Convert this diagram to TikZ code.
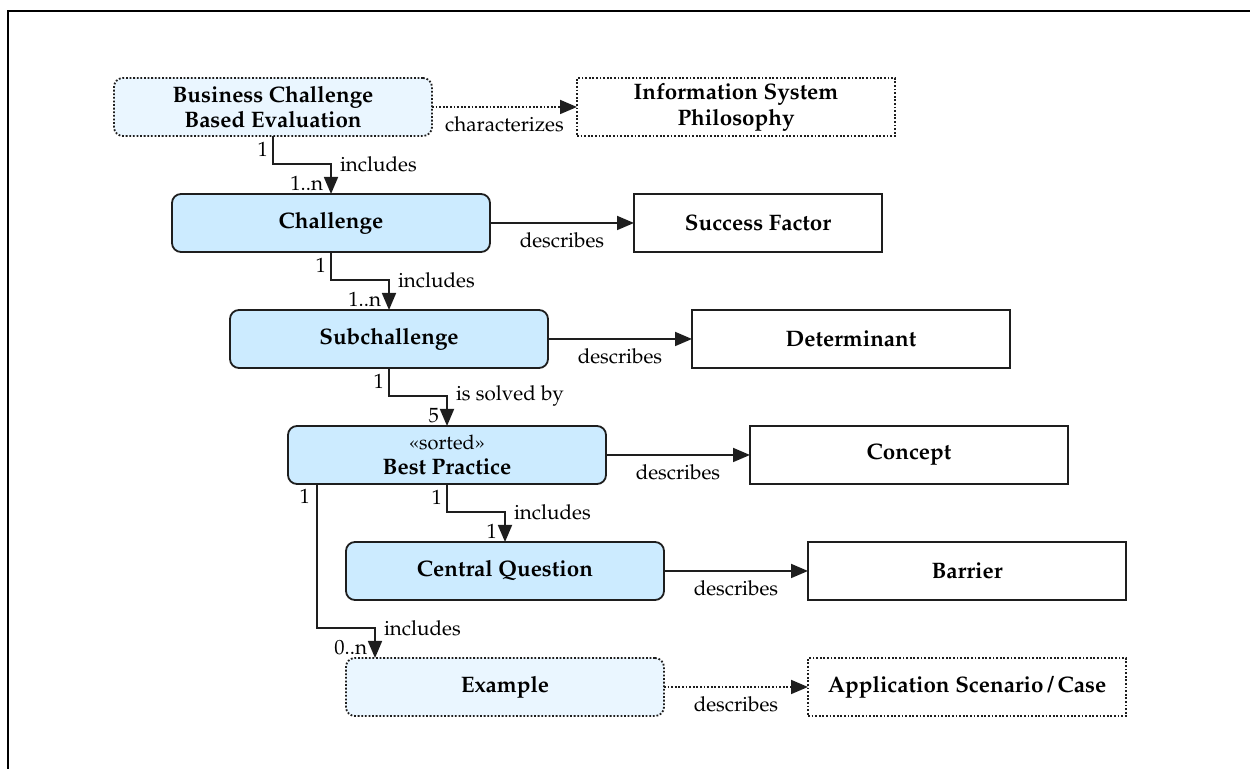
\documentclass[tikz,border=0pt]{standalone}
\usepackage[T1]{fontenc}
\usepackage{mathpazo}
\usetikzlibrary{arrows.meta,positioning,calc}
\definecolor{boxblue}{HTML}{CCEBFF}
\definecolor{paleblue}{HTML}{EAF6FF}
\definecolor{edge}{HTML}{1E1E1E}
\newcommand{\sortedtag}{{\fontsize{10}{11}\selectfont\mdseries\guillemotleft sorted\guillemotright}}
\begin{document}
\begin{tikzpicture}[x=0.5pt,y=-0.5pt,
  every node/.style={inner sep=0pt, outer sep=0pt},
  ent/.style={draw=edge, line width=0.9pt, rounded corners=4.5pt, fill=boxblue,
     minimum width=159pt, minimum height=29pt, align=center,
     font=\fontsize{11.2}{12.8}\selectfont\bfseries},
  entdot/.style={ent, fill=paleblue, dash pattern=on 0.9pt off 0.9pt},
  concept/.style={draw=edge, line width=0.9pt, fill=white,
     minimum width=159pt, minimum height=29pt, align=center,
     font=\fontsize{11.2}{12.8}\selectfont\bfseries},
  conceptdot/.style={concept, dash pattern=on 0.9pt off 0.9pt},
  arr/.style={draw=edge, line width=0.9pt, -{Triangle[length=8.5pt,width=7pt]}},
  arrdot/.style={arr, dash pattern=on 0.9pt off 0.9pt},
  lbl/.style={font=\fontsize{10.3}{12}\selectfont, inner sep=1.5pt}
]
\useasboundingbox (0,0) rectangle (1250,769);
% frame
\draw[line width=1.4pt] (8,769) -- (8,11) -- (1250,11);

% left column
\node[entdot] (bcbe) at (273,107) {Business Challenge\\Based Evaluation};
\node[ent] (chal) at (331,223) {Challenge};
\node[ent] (sub) at (389,339) {Subchallenge};
\node[ent] (bp) at (447,455) {\sortedtag\\[0pt]Best Practice};
\node[ent] (cq) at (505,571) {Central Question};
\node[entdot] (ex) at (505,687) {Example};

% right column
\node[conceptdot] (isp) at (736,107) {Information System\\Philosophy};
\node[concept, minimum width=124pt] (sf) at (758,223) {Success Factor};
\node[concept] (det) at (851,339) {Determinant};
\node[concept] (con) at (909,455) {Concept};
\node[concept] (bar) at (967,571) {Barrier};
\node[conceptdot] (app) at (967,687) {Application Scenario\,/\,Case};

% horizontal arrows
\draw[arrdot] (bcbe) -- (isp) node[lbl, midway, below=3.5pt] {characterizes};
\draw[arr] (chal) -- (sf) node[lbl, midway, below=3.5pt] {describes};
\draw[arr] (sub) -- (det) node[lbl, midway, below=3.5pt] {describes};
\draw[arr] (bp) -- (con) node[lbl, midway, below=3.5pt] {describes};
\draw[arr] (cq) -- (bar) node[lbl, midway, below=3.5pt] {describes};
\draw[arrdot] (ex) -- (app) node[lbl, midway, below=3.5pt] {describes};

% vertical connectors
\draw[arr] (bcbe.south) -- ++(0,28) coordinate (k1) -| (chal.north);
\node[lbl, anchor=south east] at ([xshift=-1pt,yshift=2pt]k1) {1};
\node[lbl, anchor=south east] at ([xshift=-2.5pt]chal.north) {1..n};
\node[lbl, anchor=west] at ([xshift=3pt]k1 -| chal.north) {includes};

\draw[arr] (chal.south) -- ++(0,28) coordinate (k2) -| (sub.north);
\node[lbl, anchor=south east] at ([xshift=-1pt,yshift=2pt]k2) {1};
\node[lbl, anchor=south east] at ([xshift=-2.5pt]sub.north) {1..n};
\node[lbl, anchor=west] at ([xshift=3pt]k2 -| sub.north) {includes};

\draw[arr] (sub.south) -- ++(0,28) coordinate (k3) -| (bp.north);
\node[lbl, anchor=south east] at ([xshift=-1pt,yshift=2pt]k3) {1};
\node[lbl, anchor=south east] at ([xshift=-2.5pt]bp.north) {5};
\node[lbl, anchor=west] at ([xshift=3pt]k3 -| bp.north) {is solved by};

\draw[arr] (bp.south) -- ++(0,28) coordinate (k4) -| (cq.north);
\node[lbl, anchor=south east] at ([xshift=-1pt,yshift=2pt]k4) {1};
\node[lbl, anchor=south east] at ([xshift=-2.5pt]cq.north) {1};
\node[lbl, anchor=west] at ([xshift=3pt]k4 -| cq.north) {includes};

\coordinate (exin) at ([xshift=-65pt]ex.north);
\draw[arr] ([xshift=-65pt]bp.south) -- ++(0,144) coordinate (k5) -| (exin);
\node[lbl, anchor=north east] at ([xshift=-2pt,yshift=-1pt]bp.south west -| k5) {1};
\node[lbl, anchor=south east] at ([xshift=-2.5pt]exin) {0..n};
\node[lbl, anchor=west] at ([xshift=3pt]k5 -| exin) {includes};
\end{tikzpicture}
\end{document}
